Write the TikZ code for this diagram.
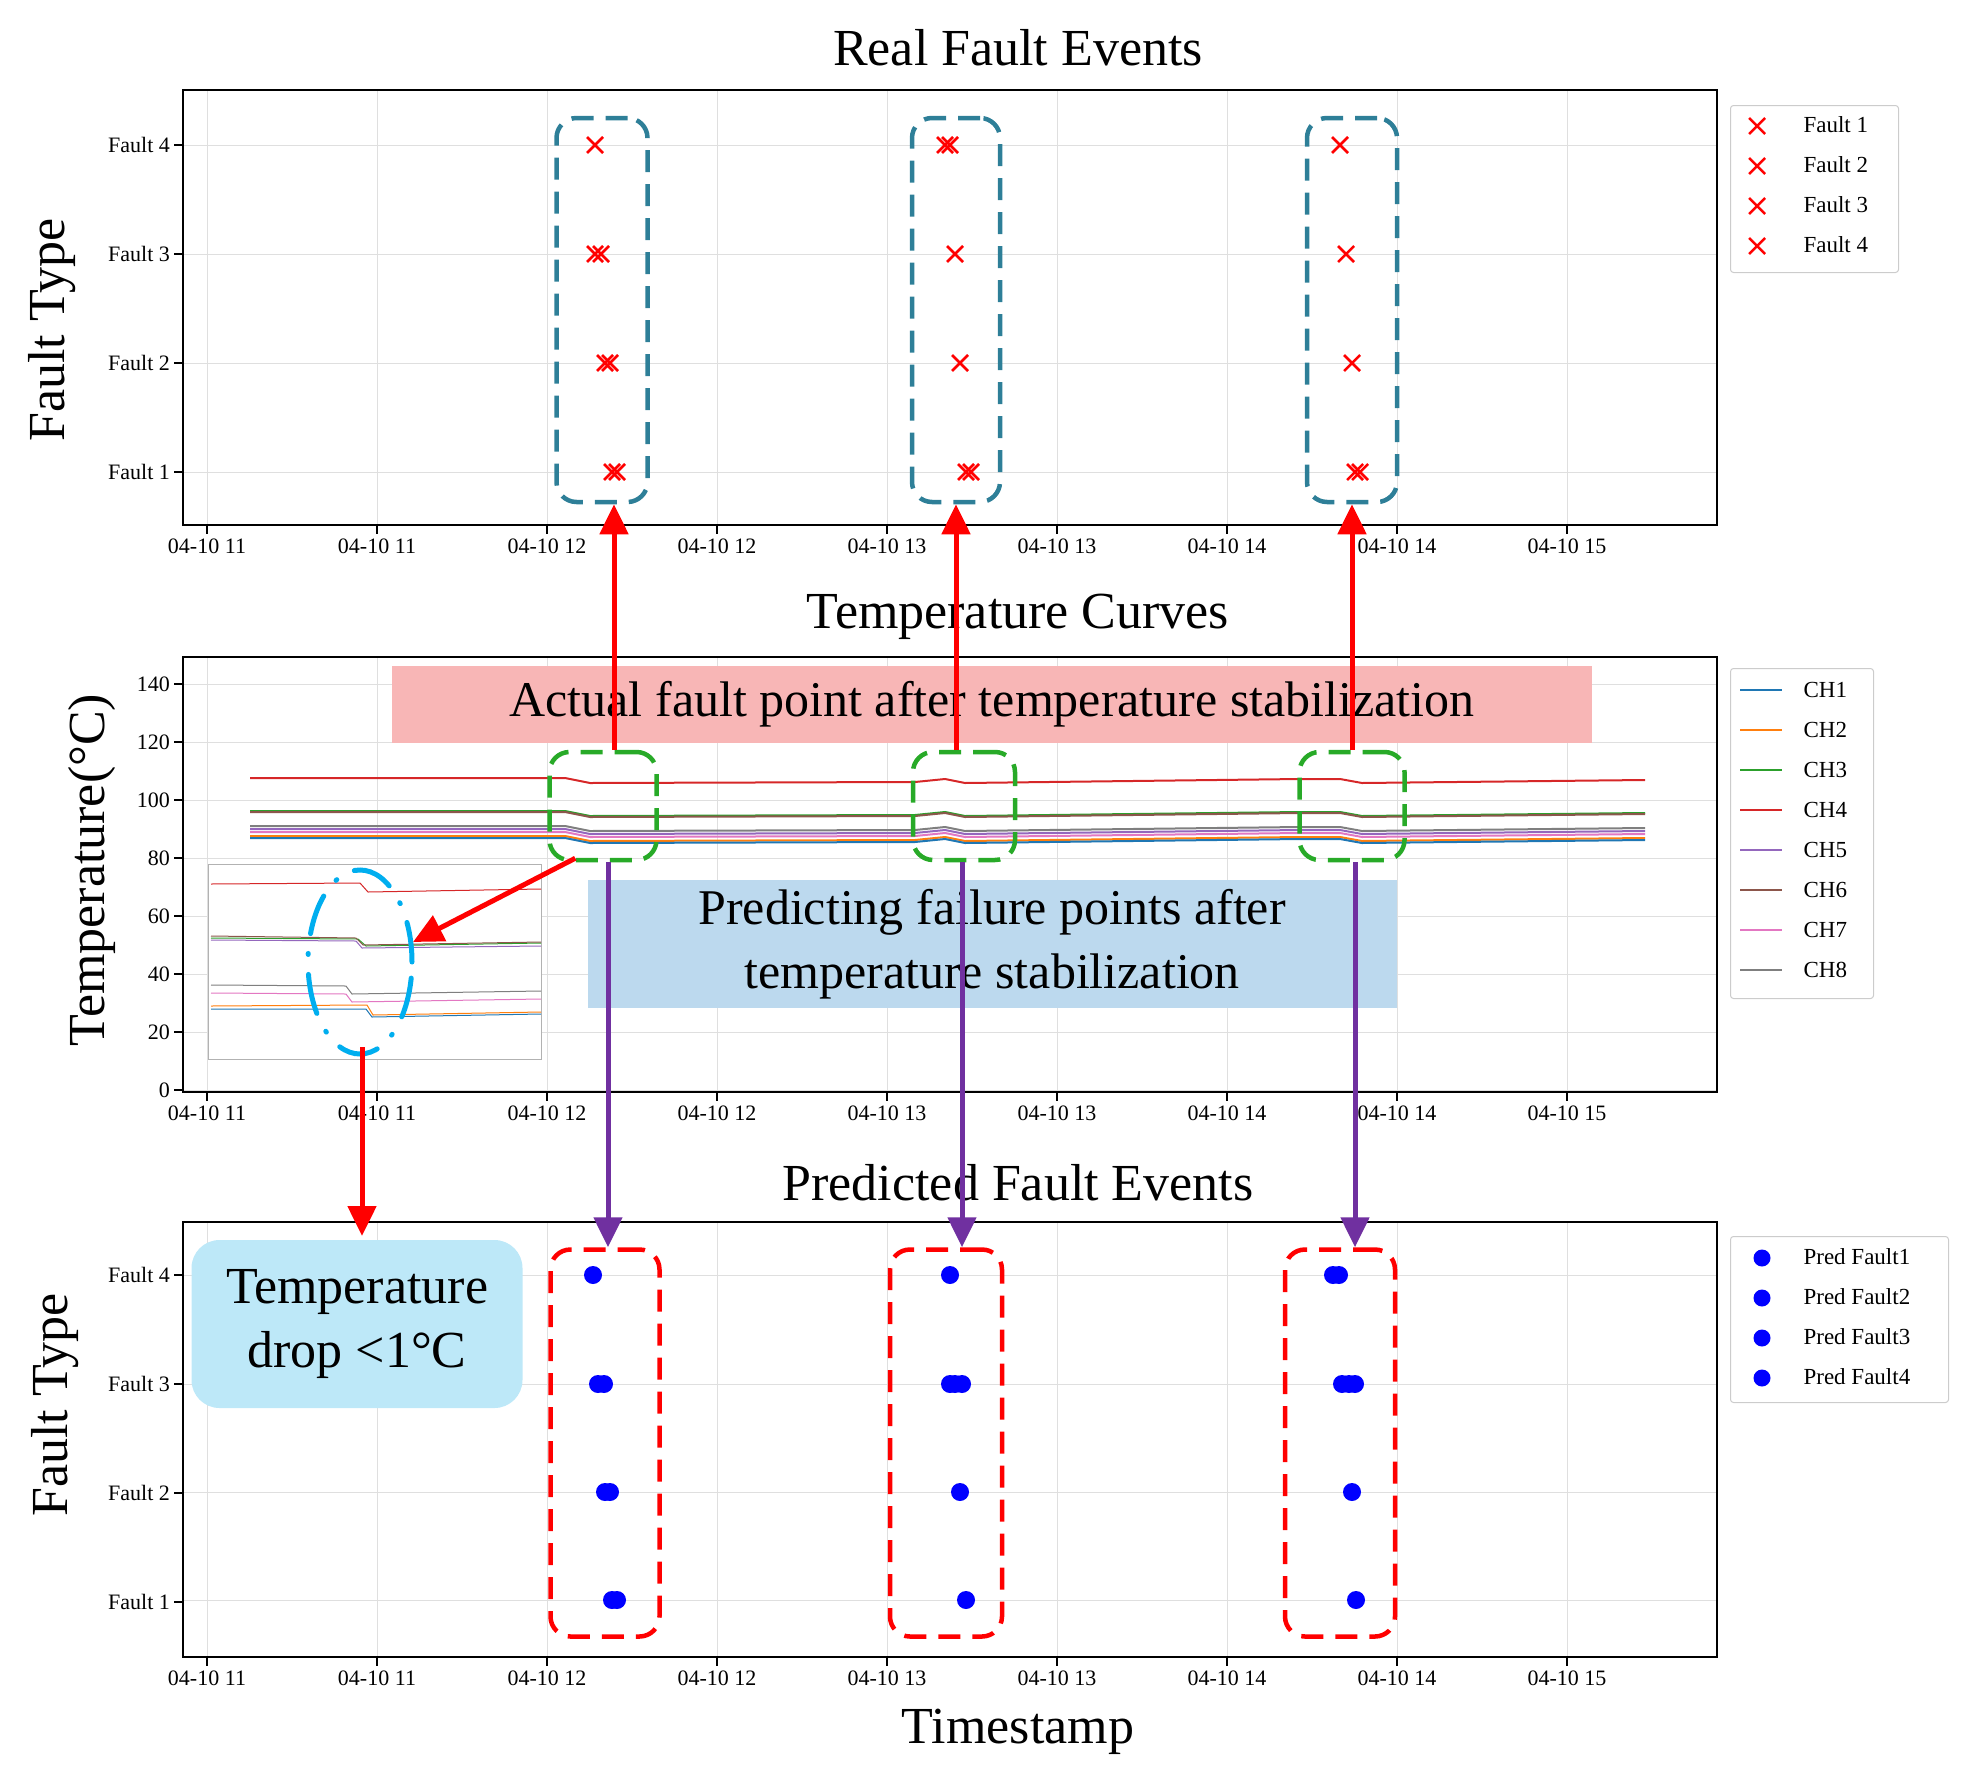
\documentclass[tikz,border=0pt]{standalone}
\usepackage{fontspec}
\setmainfont{Liberation Serif}
\usepackage{tikz}
\usetikzlibrary{positioning,calc,arrows.meta}
\definecolor{cA}{HTML}{1F77B4}
\definecolor{cB}{HTML}{FF7F0E}
\definecolor{cC}{HTML}{2CA02C}
\definecolor{cD}{HTML}{D62728}
\definecolor{cE}{HTML}{9467BD}
\definecolor{cF}{HTML}{8C564B}
\definecolor{cG}{HTML}{E377C2}
\definecolor{cH}{HTML}{7F7F7F}
\definecolor{teal}{HTML}{2E7F98}
\definecolor{pinkbox}{HTML}{F8B6B6}
\definecolor{bluebox}{HTML}{BCD9EE}
\definecolor{cyanbox}{HTML}{BDE8F8}
\definecolor{cyanline}{HTML}{00AEEF}
\definecolor{purp}{HTML}{7030A0}
\newcommand{\fsz}[1]{\fontsize{#1}{#1}\selectfont}
\newcommand{\tcurve}[2]{%
	\draw[#1,line width=2pt] (250,#2) -- (565,#2) -- (590,#2+5) -- (915,#2+4) -- (945,#2+1) -- (965,#2+5) -- (1300,#2+1) -- (1340,#2+1) -- (1362,#2+5) -- (1645,#2+2);}
\tikzset{
	ax/.style={line width=1.6pt},
	grd/.style={gray!25,line width=1pt},
	tick/.style={font=\fsz{22}},
	ttl/.style={font=\fsz{52}},
	lbl/.style={font=\fsz{52}},
	leg/.style={draw=gray!40,rounded corners=3pt,line width=1pt,fill=white},
	legtxt/.style={font=\fsz{23},anchor=west},
	dbox/.style={dashed,line width=4.5pt,rounded corners=20pt,dash pattern=on 22pt off 12pt,inner sep=0pt},
	up/.style={red,line width=5pt,-{Triangle[length=30pt,width=28pt]}},
	down/.style={purp,line width=5pt,-{Triangle[length=30pt,width=28pt]}},
	xm/.style={red,line width=2.5pt},
	dot/.style={blue,fill=blue,circle,inner sep=0pt,minimum size=18pt},
}
\begin{document}
\begin{tikzpicture}[x=1pt,y=-1pt]
	\useasboundingbox (0,0) rectangle (1973,1777);
	% ---------- grids ----------
	\foreach \x in {207,377,...,1567} {
		\draw[grd] (\x,90) -- (\x,525);
		\draw[grd] (\x,657) -- (\x,1090);
		\draw[grd] (\x,1222) -- (\x,1657);
	}
	\foreach \y in {145,254,363,472} \draw[grd] (183,\y) -- (1717,\y);
	\foreach \y in {1275,1384,1492,1600} \draw[grd] (183,\y) -- (1717,\y);
	\foreach \v [count=\i from 0] in {0,20,...,140} \draw[grd] (183,1090-58*\i) -- (1717,1090-58*\i);
	\node[ttl] (t1) at (1018,48) {Real Fault Events};
	\node[ttl] (t2) at (1018,617) {Temperature Curves};
	\node[ttl] (t3) at (1018,1183) {Predicted Fault Events};
	\node[lbl] (xl) at (1018,1732) {Timestamp};
	\node[lbl,rotate=90] (yl1) at (52,330) {Fault Type};
	\node[lbl,rotate=90] (yl2) at (92,870) {Temperature(\textdegree C)};
	\node[lbl,rotate=90] (yl3) at (55,1405) {Fault Type};
	% axes frames and ticks
	\foreach \t in {90,657,1222} {
		\draw[ax] (183,\t) rectangle (1717,\t+435);
		\foreach \x/\h in {207/11,377/11,547/12,717/12,887/13,1057/13,1227/14,1397/14,1567/15} {
			\draw[ax] (\x,\t+435) -- (\x,\t+444);
			\node[tick,anchor=north] at (\x,\t+445) {04-10 \h};
		}
	}
	\foreach \y/\f in {145/4,254/3,363/2,472/1} {
		\draw[ax] (183,\y) -- (174,\y) node[tick,anchor=east] {Fault \f};
		\draw[ax] (183,\y+1130) -- (174,\y+1130) node[tick,anchor=east] {Fault \f};
	}
	\foreach \v [count=\i from 0] in {0,20,...,140}
		\draw[ax] (183,1090-58*\i) -- (174,1090-58*\i) node[tick,anchor=east] {\v};
	% temperature curves
	\tcurve{cD}{778}
	\tcurve{cC}{811}
	\tcurve{cF}{812}
	\tcurve{cH}{826}
	\tcurve{cE}{829}
	\tcurve{cG}{832}
	\tcurve{cB}{836}
	\tcurve{cA}{838}
	% fault markers
	\foreach \x/\y in {595/145,595/254,601/254,605/363,610/363,612/472,617/472,
		945/145,950/145,955/254,960/363,966/472,971/472,
		1340/145,1346/254,1352/363,1355/472,1360/472} {
		\draw[xm] (\x-8,\y-8) -- (\x+8,\y+8);
		\draw[xm] (\x-8,\y+8) -- (\x+8,\y-8);
	}
	\foreach \x/\y in {593/1275,598/1384,604/1384,605/1492,610/1492,612/1600,617/1600,
		950/1275,950/1384,955/1384,962/1384,960/1492,966/1600,
		1333/1275,1339/1275,1342/1384,1349/1384,1355/1384,1352/1492,1356/1600}
		\node[dot] at (\x,\y) {};
	% highlight boxes
	\node[fill=pinkbox,minimum width=1200pt,minimum height=77pt,font=\fsz{50}] (pk) at (992,704) {Actual fault point after temperature stabilization};
	\node[fill=bluebox,minimum width=809pt,minimum height=128pt,align=center,font=\fsz{50}] (bl) at (992,944) {Predicting failure points after\\[14pt]temperature stabilization};
	\node[fill=cyanbox,rounded corners=28pt,minimum width=331pt,minimum height=168pt,align=center,font=\fsz{52}] (cy) at (357,1324) {Temperature\\[12pt]drop \textless1\textdegree C};
	% dashed groups
	\foreach \n/\x/\w in {1/602/91,2/956/88,3/1352/90}
		\node[dbox,draw=teal,minimum width=\w pt,minimum height=384pt] (r\n) at (\x,310) {};
	\foreach \n/\x/\w in {1/603/107,2/964/102,3/1352/105}
		\node[dbox,draw=cC!90!green,minimum width=\w pt,minimum height=108pt] (g\n) at (\x,806) {};
	\foreach \n/\x/\w in {1/605/109,2/946/112,3/1340/110}
		\node[dbox,draw=red,minimum width=\w pt,minimum height=387pt] (p\n) at (\x,1443) {};
	% inset
	\node[draw=gray!60,fill=white,minimum width=333pt,minimum height=195pt,inner sep=0pt] (ins) at (375,962) {};
	\begin{scope}[line width=1pt]
		\draw[cD] (211,884) -- (360,883) -- (368,892) -- (541,889);
		\draw[cC] (211,938) -- (358,939) -- (366,946) -- (541,943);
		\draw[cF] (211,936) -- (356,938) -- (363,945) -- (541,942);
		\draw[cE] (211,940) -- (356,941) -- (362,948) -- (541,946);
		\draw[cH] (211,985) -- (346,986) -- (352,994) -- (541,991);
		\draw[cG] (211,993) -- (346,994) -- (352,1002) -- (541,999);
		\draw[cB] (211,1006) -- (367,1005) -- (373,1015) -- (541,1012);
		\draw[cA] (211,1009) -- (366,1009) -- (372,1017) -- (541,1014);
	\end{scope}
	\draw[cyanline,line width=5pt,dash pattern=on 40pt off 20pt on 1pt off 20pt,line cap=round] (ins.center) ++(-15,0) ellipse (52pt and 92pt);
	% connectors
	\foreach \n/\a/\b in {1/11/5,2/-8/-2,3/0/3} {
		\coordinate (gt\n) at ($(g\n.north)+(\a,0)$);
		\draw[up] (gt\n) -- (gt\n |- r\n.south);
		\coordinate (gb\n) at ($(g\n.south)+(\b,0)$);
		\draw[down] (gb\n) -- (gb\n |- p\n.north);
	}
	\coordinate (ie) at (413,942);
	\draw[up] ($(g1.south west)+(28,-4)$) -- (ie);
	\coordinate (is) at (362,1047);
	\draw[up] (is) -- (362,1236);
	% legends
	\node[leg,minimum width=168pt,minimum height=167pt,anchor=north west] (lg1) at (1730,105) {};
	\foreach \f [count=\i from 0] in {1,2,3,4} {
		\draw[xm] (1757-8,126+40*\i-8) -- (1757+8,126+40*\i+8);
		\draw[xm] (1757-8,126+40*\i+8) -- (1757+8,126+40*\i-8);
		\node[legtxt] at (1800,125+40*\i) {Fault \f};
	}
	\node[leg,minimum width=143pt,minimum height=330pt,anchor=north west] (lg2) at (1730,668) {};
	\foreach \c [count=\i from 0] in {cA,cB,cC,cD,cE,cF,cG,cH} {
		\draw[\c,line width=2pt] (1740,690+40*\i) -- (1782,690+40*\i);
		\node[legtxt] at (1800,690+40*\i) {CH\the\numexpr\i+1\relax};
	}
	\node[leg,minimum width=218pt,minimum height=166pt,anchor=north west] (lg3) at (1730,1236) {};
	\foreach \f [count=\i from 0] in {1,2,3,4} {
		\node[dot,minimum size=17pt] at (1762,1258+40*\i) {};
		\node[legtxt] at (1800,1257+40*\i) {Pred Fault\f};
	}
\end{tikzpicture}
\end{document}
